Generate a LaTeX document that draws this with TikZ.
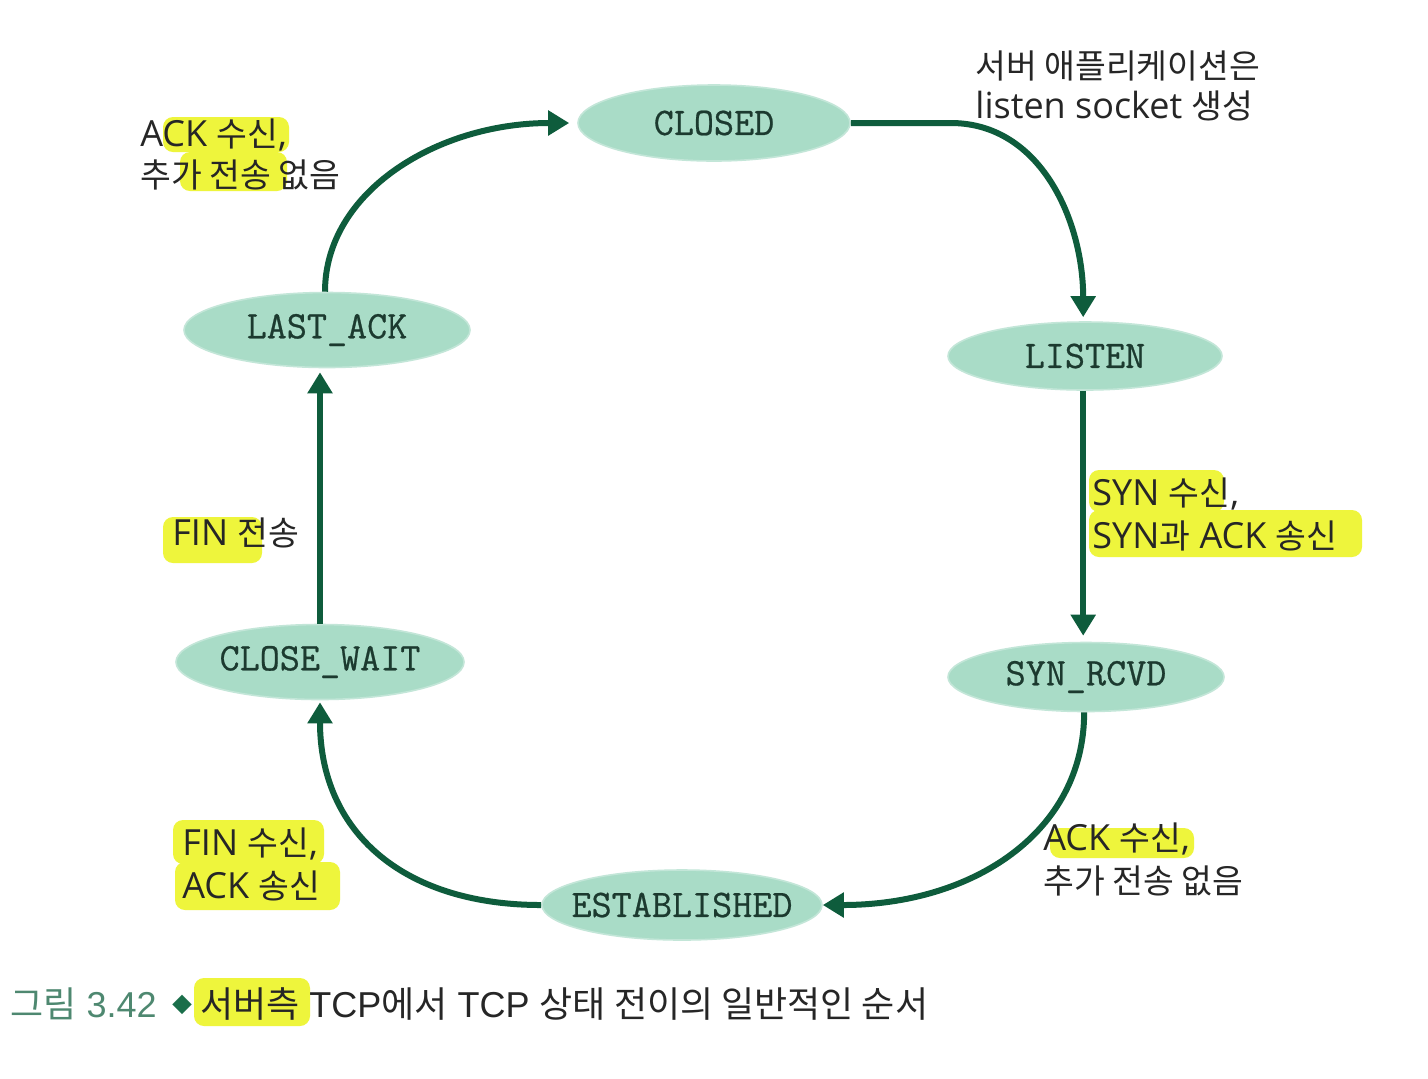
\documentclass[tikz,border=0pt]{standalone}
\usepackage{fontspec}
\setmainfont{Open Sans}
\newfontfamily\kofont[Scale=0.93]{Noto Sans CJK KR}
\newfontfamily\capkofont[Scale=1.0]{Noto Sans CJK KR}
\newfontfamily\capfont{Liberation Sans}
\newfontfamily\statefont[FakeBold=0.6]{Latin Modern Mono}
\newcommand\ko[1]{{\kofont #1}}
\newcommand\capko[1]{{\capkofont #1}}
\usetikzlibrary{shapes.geometric,arrows.meta}
\definecolor{mint}{HTML}{A9DCC7}
\definecolor{arrowgreen}{HTML}{0E5C3C}
\definecolor{statetext}{HTML}{1C3A2F}
\definecolor{hl}{HTML}{EEF53C}
\definecolor{labeltext}{HTML}{262626}
\definecolor{capgray}{HTML}{4E8870}
\definecolor{capdiamond}{HTML}{1A6E4A}
\tikzset{
  state/.style={ellipse, fill=mint, draw=mint!70!white, line width=0.8pt, inner sep=0pt},
  statelabel/.style={font=\statefont\fontsize{19.5}{19.5}\selectfont, text=statetext, inner sep=0pt},
  trans/.style={draw=arrowgreen, line width=3pt, -{Triangle[length=10.5pt,width=12pt]}},
  lbl/.style={anchor=base west, inner sep=0pt, font=\fontsize{18}{18}\selectfont, text=labeltext},
  captext/.style={anchor=base west, inner sep=0pt, font=\capfont\fontsize{18}{18}\selectfont, text=labeltext},
  hlbox/.style={fill=hl, rounded corners=5pt}
}
\begin{document}
\begin{tikzpicture}[x=0.5pt,y=-0.5pt]
\useasboundingbox[fill=white] (0,0) rectangle (1428,1078);

% highlights
\fill[hlbox] (163,117) rectangle (289,152);
\fill[hlbox] (180,152) rectangle (287,191);
\fill[hlbox] (1089,470) rectangle (1224,512);
\fill[hlbox] (1089,510) rectangle (1362,557);
\fill[hlbox] (163,517) rectangle (262,563);
\fill[hlbox] (173,820) rectangle (324,864);
\fill[hlbox] (175,862) rectangle (340,910);
\fill[hlbox] (1050,828) rectangle (1194,858);
\fill[hlbox] (194,978) rectangle (310,1026);

% states
\node[state, minimum width=136pt, minimum height=38pt, label={[statelabel]center:CLOSED}] (closed) at (714,123) {};
\node[state, minimum width=137pt, minimum height=34pt, label={[statelabel]center:LISTEN}] (listen) at (1085,356) {};
\node[state, minimum width=138pt, minimum height=34.5pt, label={[statelabel]center:SYN\_RCVD}] (synrcvd) at (1086,677) {};
\node[state, minimum width=140pt, minimum height=35pt, label={[statelabel]center:ESTABLISHED}] (established) at (682,905) {};
\node[state, minimum width=144pt, minimum height=37.5pt, label={[statelabel]center:CLOSE\_WAIT}] (closewait) at (320,662) {};
\node[state, minimum width=143pt, minimum height=37.5pt, label={[statelabel]center:LAST\_ACK}] (lastack) at (327,330) {};

% transitions
\draw[trans, shorten >=4pt] (lastack.93) .. controls +(0,-100) and +(-140,0) .. (closed.west);
\draw[trans, shorten >=2pt] (closed.east) -- ++(100,0) .. controls +(90,0) and +(0,-100) .. (listen.93);
\draw[trans, shorten >=3pt] (listen.267) -- (listen.267 |- synrcvd.north);
\draw[trans] (synrcvd.267) .. controls +(0,120) and +(150,0) .. (established.east);
\draw[trans, shorten >=1pt] (established.west) .. controls +(-140,0) and +(0,130) .. (closewait.south);
\draw[trans, shorten >=2pt] (closewait.north) -- (closewait.north |- lastack.south);

% labels
\node[lbl] (l1a) at (140,146) {ACK \ko{수신},};
\node[lbl] (l1b) at (140,187) {\ko{추가 전송 없음}};
\node[lbl] (l2a) at (975,78) {\ko{서버 애플리케이션은}};
\node[lbl] (l2b) at (975,118) {listen socket \ko{생성}};
\node[lbl] (l3a) at (1092,505) {SYN \ko{수신},};
\node[lbl] (l3b) at (1092,548) {SYN\ko{과} ACK \ko{송신}};
\node[lbl] (l4) at (172,545) {FIN \ko{전송}};
\node[lbl] (l5a) at (182,855) {FIN \ko{수신},};
\node[lbl] (l5b) at (182,898) {ACK \ko{송신}};
\node[lbl] (l6a) at (1043,850) {ACK \ko{수신},};
\node[lbl] (l6b) at (1043,893) {\ko{추가 전송 없음}};

% caption
\node[captext] (caption) at (10,1017) {\textcolor{capgray}{\capko{그림} 3.42}\hspace{0.45em}\textcolor{capdiamond}{\raisebox{2.5pt}{\capkofont\fontsize{10}{10}\selectfont ◆}}\hspace{0.2em}\capko{서버측} TCP\capko{에서} TCP \capko{상태 전이의 일반적인 순서}};
\end{tikzpicture}
\end{document}
